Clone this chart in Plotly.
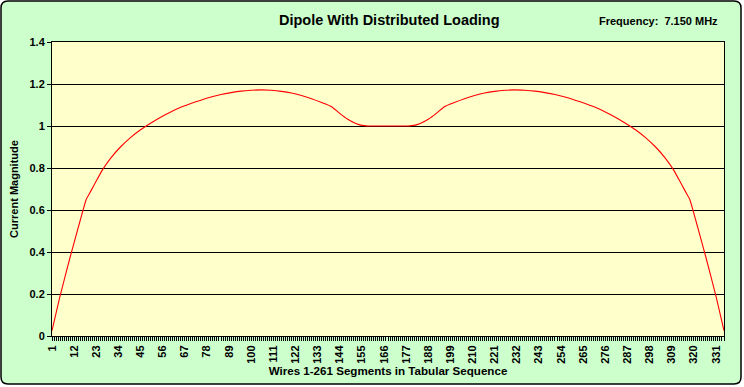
import plotly.graph_objects as go

title_text = "Dipole With Distributed Loading"
freq_text = "Frequency:  7.150 MHz"
x_title = "Wires 1-261 Segments in Tabular Sequence"
y_title = "Current Magnitude"

segments = [1, 5, 10, 15, 18, 19, 22, 26, 30, 35, 40, 45, 50, 55, 60, 65, 70, 75, 80, 85,
            90, 95, 100, 105, 110, 115, 120, 125, 130, 135, 140, 144, 148, 152, 155, 158, 168,
            178, 181, 184, 188, 192, 196, 201, 206, 211, 216, 221, 226, 231, 236, 241, 246,
            251, 256, 261, 266, 271, 276, 281, 286, 291, 296, 301, 306, 310, 314, 317, 318,
            321, 326, 331, 335]
current = [0.025, 0.19, 0.375, 0.55, 0.65, 0.668, 0.72, 0.79, 0.845, 0.90, 0.945, 0.982, 1.013,
           1.042, 1.067, 1.089, 1.107, 1.123, 1.138, 1.150, 1.159, 1.166, 1.170, 1.172, 1.170,
           1.165, 1.157, 1.145, 1.13, 1.112, 1.092, 1.06, 1.032, 1.012, 1.003, 1.0, 1.0,
           1.0, 1.003, 1.012, 1.032, 1.06, 1.092, 1.112, 1.13, 1.145, 1.157, 1.165, 1.170,
           1.172, 1.170, 1.166, 1.159, 1.150, 1.138, 1.123, 1.107, 1.089, 1.067, 1.042, 1.013,
           0.982, 0.945, 0.90, 0.845, 0.79, 0.72, 0.668, 0.65, 0.55, 0.375, 0.19, 0.025]

x_tick_vals = list(range(1, 332, 11))
y_tick_vals = [0, 0.2, 0.4, 0.6, 0.8, 1.0, 1.2, 1.4]

FONT = "Liberation Sans"
W, H = 744, 387
L, R, T, B = 52, 20, 42, 51
PW, PH = W - L - R, H - T - B


def px(x):
    return (x - L) / PW


def py(y):
    return (H - B - y) / PH


x0, x1, y0, y1, rr = 1, 741, 1, 384, 7
border_path = (
    f"M {px(x0)},{py(y0 + rr)} L {px(x0)},{py(y1 - rr)} Q {px(x0)},{py(y1)} {px(x0 + rr)},{py(y1)} "
    f"L {px(x1 - rr)},{py(y1)} Q {px(x1)},{py(y1)} {px(x1)},{py(y1 - rr)} "
    f"L {px(x1)},{py(y0 + rr)} Q {px(x1)},{py(y0)} {px(x1 - rr)},{py(y0)} "
    f"L {px(x0 + rr)},{py(y0)} Q {px(x0)},{py(y0)} {px(x0)},{py(y0 + rr)} Z"
)

fig = go.Figure()
fig.add_trace(go.Scatter(x=segments, y=current, mode="lines",
                         line=dict(color="#FF0000", width=1.1, shape="spline", smoothing=0.5),
                         hoverinfo="skip", showlegend=False))

bold = dict(family=FONT, size=11, color="black", weight="bold")

fig.update_layout(
    width=W, height=H,
    margin=dict(l=L, r=R, t=T, b=B, autoexpand=False),
    paper_bgcolor="white",
    plot_bgcolor="rgba(0,0,0,0)",
    font=dict(family=FONT, size=11, color="black"),
    showlegend=False,
    xaxis=dict(
        range=[1, 335], tickmode="array", tickvals=x_tick_vals,
        ticktext=[str(v) for v in x_tick_vals], automargin=False,
        tickangle=-90, ticks="outside", ticklen=4, tickcolor="black",
        tickfont=bold,
        minor=dict(dtick=1, tick0=1, ticks="outside", ticklen=4, tickcolor="black", tickwidth=1, showgrid=False),
        showgrid=False, zeroline=False, showline=True, linecolor="black", linewidth=1, mirror=True,
        title=dict(text=x_title, font=dict(family=FONT, size=11.6, color="black", weight="bold"), standoff=2),
    ),
    yaxis=dict(
        range=[0, 1.4], tickmode="array", tickvals=y_tick_vals, automargin=False,
        ticktext=["0", "0.2", "0.4", "0.6", "0.8", "1", "1.2", "1.4"],
        ticks="outside", ticklen=4, tickcolor="black",
        tickfont=bold,
        showgrid=True, gridcolor="black", gridwidth=1, zeroline=False,
        showline=True, linecolor="black", linewidth=1, mirror=True,
        title=dict(text=y_title, font=bold, standoff=8),
    ),
    shapes=[
        dict(type="path", xref="paper", yref="paper", layer="below", path=border_path,
             fillcolor="#CCFFCC", line=dict(color="black", width=1.5)),
        dict(type="rect", xref="paper", yref="paper", layer="below", x0=0, x1=1, y0=0, y1=1,
             fillcolor="#FFFFCC", line=dict(width=0)),
    ],
    annotations=[
        dict(text=title_text, xref="paper", yref="paper", x=px(389), y=py(20), xanchor="center",
             yanchor="middle", showarrow=False, font=dict(family=FONT, size=14.5, color="black", weight="bold")),
        dict(text=freq_text, xref="paper", yref="paper", x=px(720), y=py(21), xanchor="right",
             yanchor="middle", showarrow=False, font=dict(family=FONT, size=11, color="black", weight="bold")),
    ],
)

fig.write_html("out.html", config={"displayModeBar": False},
               post_script="document.body.style.margin='0';document.body.style.padding='0';")
